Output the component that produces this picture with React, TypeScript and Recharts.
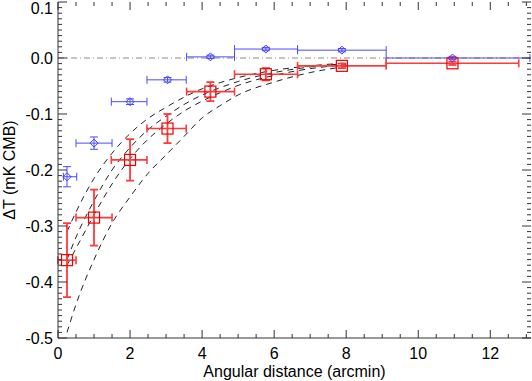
import { ComposedChart, Scatter, Line, XAxis, YAxis, ErrorBar, ReferenceLine } from 'recharts';

// bin centres (arcmin) shared by both profiles
const binCenter = [0.25, 1.0, 2.0, 3.04, 4.23, 5.77, 7.88, 10.95];

// red profile (squares)
const redLo = [0, 0.5, 1.48, 2.47, 3.57, 4.9, 6.65, 9.11];
const redHi = [0.5, 1.5, 2.47, 3.56, 4.9, 6.65, 9.11, 12.79];
const redT = [-0.361, -0.285, -0.182, -0.126, -0.06, -0.029, -0.014, -0.0095];
const redErr = [0.066, 0.05, 0.037, 0.026, 0.017, 0.011, 0.004, 0.003];

// blue profile (diamonds)
const blueLo = [0.15, 0.5, 1.48, 2.47, 3.57, 4.9, 6.65, 9.11];
const blueHi = [0.52, 1.5, 2.47, 3.56, 4.9, 6.65, 9.11, 13.1];
const blueT = [-0.212, -0.152, -0.078, -0.039, 0.002, 0.016, 0.014, 0.0];
const blueErr = [0.018, 0.011, 0.005, 0.004, 0.003, 0.003, 0.003, 0.003];

// dashed model curves
const modelX = [0.25, 0.5, 1, 1.5, 2, 2.5, 3, 3.5, 4, 4.5, 5, 6, 7, 8];
const modelA = [-0.31, -0.275, -0.215, -0.17, -0.135, -0.108, -0.088, -0.07, -0.055, -0.044, -0.035, -0.022, -0.014, -0.009];
const modelB = [-0.36, -0.32, -0.255, -0.2, -0.16, -0.128, -0.104, -0.083, -0.066, -0.053, -0.042, -0.026, -0.016, -0.01];
const modelC = [-0.37, -0.34, -0.28, -0.225, -0.18, -0.145, -0.118, -0.095, -0.077, -0.062, -0.049, -0.031, -0.019, -0.012];
const modelD = [-0.49, -0.44, -0.36, -0.295, -0.248, -0.206, -0.173, -0.14, -0.107, -0.085, -0.066, -0.043, -0.026, -0.015];

const xTicks = Array.from({ length: 27 }, (_, i) => i / 2);
const yTicks = Array.from({ length: 61 }, (_, i) => Math.round(i - 50) / 100);

const W = 532;
const H = 381;
const PLOT = { left: 58, right: 531, top: 2, bottom: 338 };
const FONT = '"Liberation Sans", Arial, sans-serif';

const toPoints = (lo: number[], hi: number[], t: number[], err: number[]) =>
  binCenter.map((x, i) => ({ x, y: t[i], xErr: [x - lo[i], hi[i] - x], yErr: err[i] }));

const redData = toPoints(redLo, redHi, redT, redErr);
const blueData = toPoints(blueLo, blueHi, blueT, blueErr);
const curve = (ys: number[]) => modelX.map((x, i) => ({ x, y: ys[i] }));

const XTick = (props: any) => {
  const { x, payload } = props;
  const v = payload.value;
  const major = Math.abs(v % 2) < 1e-6;
  const len = major ? 8 : 4;
  return (
    <g>
      <line x1={x} x2={x} y1={PLOT.bottom} y2={PLOT.bottom - len} stroke="#333" />
      <line x1={x} x2={x} y1={PLOT.top} y2={PLOT.top + len} stroke="#333" />
      {major && v <= 12 && (
        <text x={x} y={PLOT.bottom + 21} textAnchor="middle" fontSize={16} fontFamily={FONT} fill="#000">
          {v}
        </text>
      )}
    </g>
  );
};

const YTick = (props: any) => {
  const { y, payload } = props;
  const v = payload.value;
  const major = Math.abs(Math.round(v * 100) % 10) === 0;
  const len = major ? 9 : 4;
  return (
    <g>
      <line x1={PLOT.left} x2={PLOT.left + len} y1={y} y2={y} stroke="#333" />
      <line x1={PLOT.right} x2={PLOT.right - len} y1={y} y2={y} stroke="#333" />
      {major && (
        <text x={PLOT.left - 5} y={Math.max(y, 7.5) + 6} textAnchor="end" fontSize={16} fontFamily={FONT} fill="#000">
          {v.toFixed(1)}
        </text>
      )}
    </g>
  );
};

const XLabel = () => (
  <text x={(PLOT.left + PLOT.right) / 2} y={377} textAnchor="middle" fontSize={16} fontFamily={FONT} fill="#000">
    Angular distance (arcmin)
  </text>
);

const YLabel = () => {
  const cy = (PLOT.top + PLOT.bottom) / 2;
  return (
    <text x={15} y={cy} transform={`rotate(-90 15 ${cy})`} textAnchor="middle" fontSize={16} fontFamily={FONT} fill="#000">
      ΔT (mK CMB)
    </text>
  );
};

const Square = (props: any) => (
  <rect x={props.cx - 5.5} y={props.cy - 5.5} width={11} height={11} fill="none" stroke="#e00" strokeWidth={1.2} />
);

const Diamond = (props: any) => {
  const { cx, cy } = props;
  return (
    <polygon
      points={`${cx},${cy - 4} ${cx + 4},${cy} ${cx},${cy + 4} ${cx - 4},${cy}`}
      fill="none"
      stroke="#3a3aff"
      strokeWidth={1}
    />
  );
};

export default function App() {
  return (
    <div style={{ position: 'absolute', left: 0, top: 0, width: W, height: H, background: '#fff' }}>
      <ComposedChart
        width={W}
        height={H}
        margin={{ top: PLOT.top, right: W - PLOT.right, bottom: 13, left: 8 }}
      >
        <XAxis
          type="number"
          dataKey="x"
          domain={[0, 13.13]}
          ticks={xTicks}
          interval={0}
          tick={<XTick />}
          tickLine={false}
          tickSize={0}
          tickMargin={0}
          height={30}
          axisLine={{ stroke: '#333' }}
          allowDataOverflow
          label={<XLabel />}
        />
        <XAxis xAxisId="top" orientation="top" type="number" domain={[0, 13.13]} tick={false} height={0} axisLine={{ stroke: '#333' }} />
        <YAxis
          type="number"
          domain={[-0.5, 0.1]}
          ticks={yTicks}
          interval={0}
          tick={<YTick />}
          tickLine={false}
          tickSize={0}
          tickMargin={6}
          width={50}
          axisLine={{ stroke: '#333' }}
          allowDataOverflow
          label={<YLabel />}
        />
        <YAxis yAxisId="right" orientation="right" type="number" domain={[-0.5, 0.1]} tick={false} width={0} axisLine={{ stroke: '#333' }} />
        <ReferenceLine y={0} stroke="#888" strokeDasharray="6 3 1 3" />
        {[modelA, modelB, modelC, modelD].map((m, i) => (
          <Line
            key={i}
            data={curve(m)}
            dataKey="y"
            type="monotone"
            stroke="#222"
            strokeWidth={1}
            strokeDasharray="6 5"
            dot={false}
            activeDot={false}
            isAnimationActive={false}
          />
        ))}
        <Scatter data={blueData} dataKey="y" shape={<Diamond />} isAnimationActive={false}>
          <ErrorBar dataKey="xErr" direction="x" width={4} stroke="#4b4bff" strokeWidth={1} />
          <ErrorBar dataKey="yErr" direction="y" width={4} stroke="#4b4bff" strokeWidth={1} />
        </Scatter>
        <Scatter data={redData} dataKey="y" shape={<Square />} isAnimationActive={false}>
          <ErrorBar dataKey="xErr" direction="x" width={4} stroke="#ff3a3a" strokeWidth={1.6} />
          <ErrorBar dataKey="yErr" direction="y" width={4} stroke="#ff3a3a" strokeWidth={1.8} />
        </Scatter>
      </ComposedChart>
    </div>
  );
}
